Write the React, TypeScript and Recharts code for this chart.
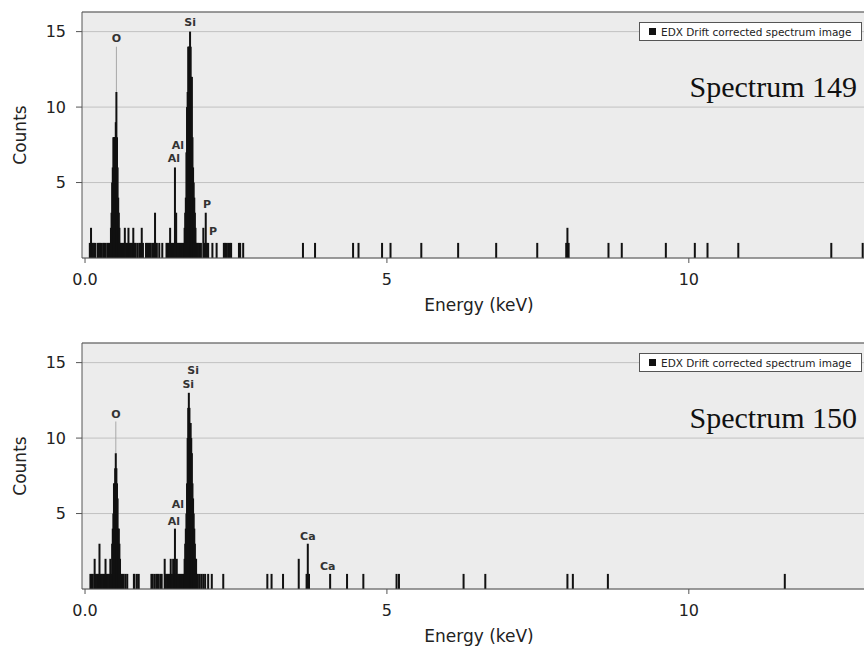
import { ComposedChart, Bar, XAxis, YAxis, CartesianGrid, ReferenceLine, ReferenceDot } from "recharts";

const FONT = "DejaVu Sans, Liberation Sans, Arial, sans-serif";

const X_TICKS = [0, 5, 10];
const Y_TICKS = [5, 10, 15];
const X_DOMAIN: [number, number] = [-0.05, 13.1];
const Y_MAX = 16.3;

// Spectrum 149
const energy149 = [
  0.08, 0.1, 0.11, 0.13, 0.15, 0.17, 0.21, 0.23, 0.25, 0.27, 0.3, 0.32, 0.34, 0.37, 0.39, 0.41,
  0.43, 0.44, 0.45, 0.46, 0.47, 0.48, 0.49, 0.5, 0.51, 0.52, 0.53, 0.54, 0.55, 0.56, 0.57, 0.58,
  0.6, 0.62, 0.64, 0.66, 0.68, 0.7, 0.72, 0.74, 0.76, 0.78, 0.8, 0.82, 0.84, 0.87, 0.9, 0.92, 0.94, 0.96,
  1.01, 1.03, 1.05, 1.07, 1.09, 1.12, 1.14, 1.16, 1.17, 1.19, 1.23, 1.28, 1.35, 1.37, 1.39, 1.41, 1.43, 1.45,
  1.47, 1.49, 1.51, 1.52, 1.54, 1.56, 1.58, 1.6, 1.62,
  1.64, 1.65, 1.66, 1.67, 1.68, 1.69, 1.7, 1.71, 1.72, 1.73, 1.74, 1.75, 1.76, 1.77, 1.78, 1.79, 1.8, 1.81,
  1.82, 1.83, 1.84, 1.85,
  1.87, 1.89, 1.92, 1.96, 1.98, 2.0, 2.02, 2.04, 2.11, 2.18, 2.3, 2.32, 2.34, 2.37, 2.4, 2.42, 2.55, 2.57, 2.62,
  3.61, 3.81, 4.44, 4.53, 4.92, 5.06, 5.57, 6.18, 6.81, 7.49, 7.97, 7.99, 8.01, 8.67, 8.89, 9.62, 10.1, 10.31,
  10.82, 12.36, 12.88,
];
const counts149 = [
  1, 2, 1, 1, 1, 1, 1, 1, 1, 1, 1, 1, 1, 1, 1, 1,
  2, 3, 5, 6, 8, 8, 8, 8, 9, 11, 8, 6, 4, 3, 2, 1,
  1, 1, 1, 2, 1, 1, 2, 1, 1, 1, 2, 1, 1, 1, 1, 1, 2, 1,
  1, 1, 1, 1, 1, 1, 1, 3, 1, 1, 1, 1, 1, 1, 1, 2, 1, 1,
  1, 6, 3, 1, 1, 1, 1, 1, 1,
  1, 2, 3, 4, 7, 10, 11, 14, 14, 14, 15, 14, 12, 12, 8, 6, 5, 4,
  3, 2, 1, 1,
  1, 1, 1, 2, 1, 3, 1, 1, 1, 1, 1, 1, 1, 1, 1, 1, 1, 1, 1,
  1, 1, 1, 1, 1, 1, 1, 1, 1, 1, 1, 2, 1, 1, 1, 1, 1, 1,
  1, 1, 1,
];
const peaks149 = ["O", "Si", "Al", "Al", "P", "P"];
const peakE149 = [0.52, 1.74, 1.54, 1.47, 2.02, 2.12];
const peakY149 = [14.6, 15.6, 7.5, 6.6, 3.6, 1.75];
const marker149 = [0.52, 11, 14.0];

// Spectrum 150
const energy150 = [
  0.09, 0.11, 0.13, 0.16, 0.18, 0.2, 0.22, 0.24, 0.26, 0.28, 0.3, 0.32, 0.34, 0.36, 0.38, 0.4, 0.42, 0.44,
  0.45, 0.46, 0.47, 0.48, 0.49, 0.5, 0.51, 0.52, 0.53, 0.54, 0.55, 0.56, 0.57, 0.58,
  0.6, 0.62, 0.64, 0.67, 0.7, 0.81, 0.82, 0.86, 0.89,
  1.1, 1.12, 1.15, 1.18, 1.2, 1.22, 1.25, 1.27, 1.32, 1.34, 1.36, 1.38, 1.4, 1.42, 1.44, 1.46, 1.49, 1.5,
  1.52, 1.54, 1.56, 1.58, 1.6, 1.62,
  1.64, 1.65, 1.66, 1.67, 1.68, 1.69, 1.7, 1.71, 1.72, 1.73, 1.74, 1.75, 1.76, 1.77, 1.78, 1.79, 1.8, 1.81,
  1.82, 1.83, 1.84, 1.85,
  1.87, 1.9, 1.93, 1.96, 1.99, 2.04, 2.1, 2.29,
  3.02, 3.09, 3.28, 3.54, 3.67, 3.69, 3.71, 4.06, 4.34, 4.61, 5.16, 5.2, 6.27, 6.63, 7.99, 8.08, 8.66, 11.59,
];
const counts150 = [
  1, 1, 1, 2, 1, 1, 1, 3, 1, 1, 1, 1, 2, 1, 1, 1, 2, 1,
  3, 4, 5, 7, 7, 8, 9, 8, 7, 6, 4, 4, 3, 2,
  1, 1, 1, 1, 1, 1, 1, 1, 1,
  1, 1, 1, 1, 1, 1, 1, 1, 2, 1, 1, 1, 1, 2, 1, 2, 4, 1,
  2, 1, 1, 1, 1, 1,
  1, 2, 3, 4, 5, 7, 10, 12, 13, 12, 11, 11, 10, 9, 7, 6, 5, 4,
  3, 2, 2, 1,
  1, 1, 1, 1, 1, 1, 1, 1,
  1, 1, 1, 2, 1, 3, 1, 1, 1, 1, 1, 1, 1, 1, 1, 1, 1, 1,
];
const peaks150 = ["O", "Si", "Si", "Al", "Al", "Ca", "Ca"];
const peakE150 = [0.51, 1.79, 1.71, 1.54, 1.47, 3.69, 4.02];
const peakY150 = [11.6, 14.5, 13.6, 5.6, 4.5, 3.5, 1.5];
const marker150 = [0.51, 9, 11.1];

// draws each channel as a 2px spike centred on its energy
const Spike = (props: any) => {
  const { x, y, width, height } = props;
  if (!height || height <= 0) return null;
  const cx = x + width / 2;
  return <rect x={cx - 1} y={y} width={2} height={height} fill="#111" />;
};

interface SpectrumProps {
  energy: number[];
  counts: number[];
  peaks: string[];
  peakE: number[];
  peakY: number[];
  marker: number[];
  title: string;
  top: number;
}

function Spectrum({ energy, counts, peaks, peakE, peakY, marker, title, top }: SpectrumProps) {
  const data = energy.map((e, i) => ({ e, c: counts[i] }));
  return (
    <div style={{ position: "absolute", left: 0, top, width: 900, height: 331 }}>
      <ComposedChart width={900} height={331} data={data} margin={{ top: 12, right: 24, bottom: 0, left: 0 }}>
        <CartesianGrid vertical={false} stroke="#c2c2c2" fill="#ececec" />
        <XAxis
          dataKey="e"
          type="number"
          domain={X_DOMAIN}
          ticks={X_TICKS}
          allowDataOverflow
          tickFormatter={(v: number) => (v === 0 ? "0.0" : String(v))}
          tickSize={5}
          tickMargin={11}
          height={73}
          stroke="#555"
          tick={{ fill: "#222", fontSize: 16, fontFamily: FONT }}
          label={{ value: "Energy (keV)", position: "insideBottom", offset: 20, fill: "#222", fontSize: 17, fontFamily: FONT }}
        />
        <YAxis
          type="number"
          domain={[0, Y_MAX]}
          ticks={Y_TICKS}
          allowDataOverflow
          width={82}
          tickSize={6}
          tickMargin={10}
          stroke="#555"
          tick={{ fill: "#222", fontSize: 16, fontFamily: FONT }}
          label={{
            value: "Counts",
            angle: -90,
            position: "insideLeft",
            offset: 20,
            fill: "#222",
            fontSize: 17,
            fontFamily: FONT,
            style: { textAnchor: "middle" },
          }}
        />
        <ReferenceLine y={Y_MAX} stroke="#555" />
        <Bar dataKey="c" fill="#111" barSize={2} shape={Spike} isAnimationActive={false} />
        <ReferenceLine
          segment={[{ x: marker[0], y: marker[1] }, { x: marker[0], y: marker[2] }]}
          stroke="#a8a8a8"
        />
        {peaks.map((p, i) => (
          <ReferenceDot
            key={i}
            x={peakE[i]}
            y={peakY[i]}
            r={0}
            stroke="none"
            fill="none"
            label={{ value: p, position: "center", fill: "#333", fontSize: 11, fontWeight: "bold", fontFamily: FONT }}
          />
        ))}
      </ComposedChart>
      <div
        style={{
          position: "absolute",
          left: 639,
          top: 22,
          width: 223,
          height: 19,
          boxSizing: "border-box",
          border: "1px solid #555",
          background: "#fff",
          display: "flex",
          alignItems: "center",
          fontFamily: FONT,
          fontSize: 10.5,
          color: "#222",
          whiteSpace: "nowrap",
          overflow: "hidden",
        }}
      >
        <span style={{ display: "inline-block", width: 7, height: 7, background: "#111", marginLeft: 9, marginRight: 5 }} />
        EDX Drift corrected spectrum image
      </div>
      <div
        style={{
          position: "absolute",
          left: 560,
          top: 72,
          width: 297,
          textAlign: "right",
          fontFamily: "Liberation Serif, Times New Roman, serif",
          fontSize: 30,
          lineHeight: "30px",
          color: "#111",
          whiteSpace: "nowrap",
        }}
      >
        {title}
      </div>
    </div>
  );
}

export default function App() {
  return (
    <div style={{ position: "fixed", left: 0, top: 0, width: 864, height: 656, overflow: "hidden", background: "#fff" }}>
      <Spectrum
        energy={energy149}
        counts={counts149}
        peaks={peaks149}
        peakE={peakE149}
        peakY={peakY149}
        marker={marker149}
        title="Spectrum 149"
        top={0}
      />
      <Spectrum
        energy={energy150}
        counts={counts150}
        peaks={peaks150}
        peakE={peakE150}
        peakY={peakY150}
        marker={marker150}
        title="Spectrum 150"
        top={331}
      />
    </div>
  );
}
